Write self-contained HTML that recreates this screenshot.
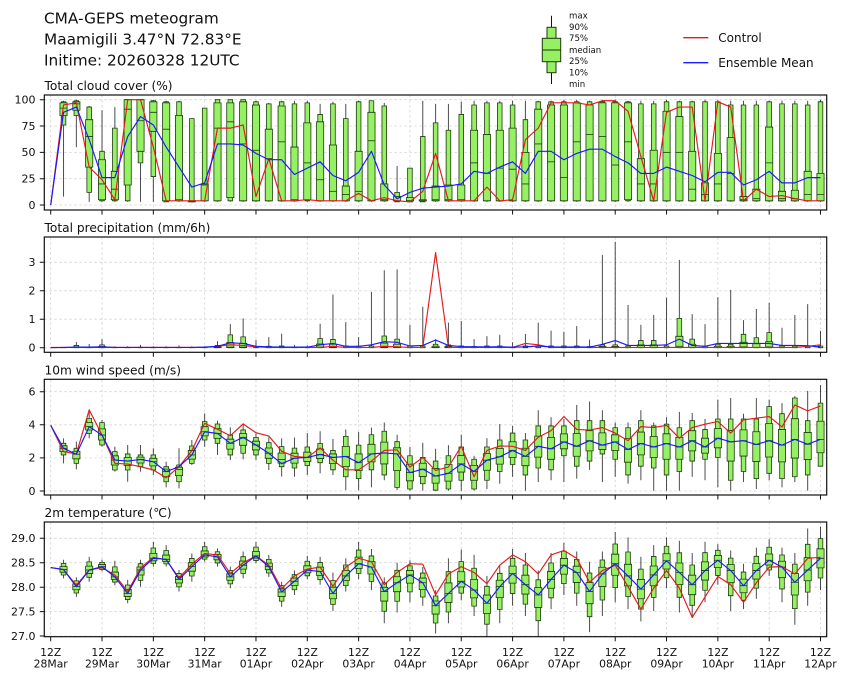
<!DOCTYPE html>
<html><head><meta charset="utf-8"><style>
html,body{margin:0;padding:0;background:#fff;}
svg{display:block;font-family:"DejaVu Sans","Liberation Sans",sans-serif;}
.b{fill:#96f064;stroke:#1c3a0c;stroke-width:0.8px;vector-effect:non-scaling-stroke;}
.w{fill:none;stroke:#000;stroke-opacity:0.7;stroke-width:1px;vector-effect:non-scaling-stroke;}
.m{fill:none;stroke:#1c3a0c;stroke-width:0.8px;vector-effect:non-scaling-stroke;}
.r{fill:none;stroke:#e41a1c;stroke-width:1.15px;stroke-linejoin:round;vector-effect:non-scaling-stroke;}
.u{fill:none;stroke:#1a1aff;stroke-width:1.15px;stroke-linejoin:round;vector-effect:non-scaling-stroke;}
.g{fill:none;stroke:#d4d4d4;stroke-width:0.8px;stroke-dasharray:2.5,2.5;}
.t{fill:none;stroke:#111;stroke-width:1px;}
.f{fill:none;stroke:#111;stroke-width:1.2px;}
</style></head><body>
<svg width="848" height="681" viewBox="0 0 848 681" xmlns="http://www.w3.org/2000/svg">
<rect width="848" height="681" fill="#fff"/>
<defs>
<clipPath id="c0" clipPathUnits="userSpaceOnUse"><rect x="44.3" y="95" width="782.4" height="115"/></clipPath>
<clipPath id="c1" clipPathUnits="userSpaceOnUse"><rect x="44.3" y="237" width="782.4" height="115.3"/></clipPath>
<clipPath id="c2" clipPathUnits="userSpaceOnUse"><rect x="44.3" y="379.3" width="782.4" height="115.7"/></clipPath>
<clipPath id="c3" clipPathUnits="userSpaceOnUse"><rect x="44.3" y="522" width="782.4" height="114.7"/></clipPath>
<path id="vg" d="M50.7,0V115M102.02,0V115M153.34,0V115M204.66,0V115M255.98,0V115M307.3,0V115M358.62,0V115M409.94,0V115M461.26,0V115M512.58,0V115M563.9,0V115M615.22,0V115M666.54,0V115M717.86,0V115M769.18,0V115M820.5,0V115"/>
<path id="xt" d="M50.7,0v4.5M102.02,0v4.5M153.34,0v4.5M204.66,0v4.5M255.98,0v4.5M307.3,0v4.5M358.62,0v4.5M409.94,0v4.5M461.26,0v4.5M512.58,0v4.5M563.9,0v4.5M615.22,0v4.5M666.54,0v4.5M717.86,0v4.5M769.18,0v4.5M820.5,0v4.5"/>
</defs>

<!-- grids -->
<use href="#vg" y="95" class="g"/>
<use href="#vg" y="237.2" class="g"/>
<use href="#vg" y="379.6" class="g"/>
<use href="#vg" y="522" class="g"/>
<path class="g" d="M44.3,99.7H826.7M44.3,126H826.7M44.3,152.4H826.7M44.3,178.7H826.7M44.3,205H826.7"/>
<path class="g" d="M44.3,347.7H826.7M44.3,319.2H826.7M44.3,290.8H826.7M44.3,262.3H826.7"/>
<path class="g" d="M44.3,491H826.7M44.3,457.9H826.7M44.3,424.8H826.7M44.3,391.7H826.7"/>
<path class="g" d="M44.3,636H826.7M44.3,611.6H826.7M44.3,587.2H826.7M44.3,562.7H826.7M44.3,538.3H826.7"/>

<!-- ============ CLOUD ============ -->
<g clip-path="url(#c0)"><g transform="translate(50.7,205) scale(12.83,-1.053)">
<g transform="translate(1)"><path class="w" d="M0,8V99"/><path class="b" d="M-.18,76H.18V98H-.18Z"/><path class="b" d="M-.28,85H.28V97H-.28Z"/><path class="m" d="M-.28,92H.28"/></g>
<g transform="translate(2)"><path class="w" d="M0,55V100"/><path class="b" d="M-.18,85H.18V99H-.18Z"/><path class="b" d="M-.28,90H.28V98H-.28Z"/><path class="m" d="M-.28,96H.28"/></g>
<g transform="translate(3)"><path class="w" d="M0,3V94"/><path class="b" d="M-.18,12H.18V93H-.18Z"/><path class="b" d="M-.28,36H.28V81H-.28Z"/><path class="m" d="M-.28,65H.28"/></g>
<g transform="translate(4)"><path class="w" d="M0,3V90"/><path class="b" d="M-.18,4H.18V51H-.18Z"/><path class="b" d="M-.28,5H.28V43H-.28Z"/><path class="m" d="M-.28,20H.28"/></g>
<g transform="translate(5)"><path class="w" d="M0,3V93"/><path class="b" d="M-.18,4H.18V73H-.18Z"/><path class="b" d="M-.28,5H.28V32H-.28Z"/><path class="m" d="M-.28,15H.28"/></g>
<g transform="translate(6)"><path class="w" d="M0,3V100"/><path class="b" d="M-.18,4H.18V100H-.18Z"/><path class="b" d="M-.28,19H.28V100H-.28Z"/><path class="m" d="M-.28,91H.28"/></g>
<g transform="translate(7)"><path class="w" d="M0,3V100"/><path class="b" d="M-.18,40H.18V100H-.18Z"/><path class="b" d="M-.28,51H.28V100H-.28Z"/><path class="m" d="M-.28,80H.28"/></g>
<g transform="translate(8)"><path class="w" d="M0,3V100"/><path class="b" d="M-.18,27H.18V99H-.18Z"/><path class="b" d="M-.28,70H.28V98H-.28Z"/><path class="m" d="M-.28,88H.28"/></g>
<g transform="translate(9)"><path class="w" d="M0,3V99"/><path class="b" d="M-.18,3H.18V98H-.18Z"/><path class="b" d="M-.28,4H.28V97H-.28Z"/><path class="m" d="M-.28,72H.28"/></g>
<g transform="translate(10)"><path class="w" d="M0,3V99"/><path class="b" d="M-.18,4H.18V98H-.18Z"/><path class="b" d="M-.28,4H.28V85H-.28Z"/><path class="m" d="M-.28,5H.28"/></g>
<g transform="translate(11)"><path class="w" d="M0,3V82"/><path class="b" d="M-.18,3H.18V82H-.18Z"/><path class="b" d="M-.28,3H.28V4H-.28Z"/><path class="m" d="M-.28,4H.28"/></g>
<g transform="translate(12)"><path class="w" d="M0,3V92"/><path class="b" d="M-.18,4H.18V92H-.18Z"/><path class="b" d="M-.28,4H.28V20H-.28Z"/><path class="m" d="M-.28,19H.28"/></g>
<g transform="translate(13)"><path class="w" d="M0,3V100"/><path class="b" d="M-.18,4H.18V100H-.18Z"/><path class="b" d="M-.28,4H.28V97H-.28Z"/><path class="m" d="M-.28,73H.28"/></g>
<g transform="translate(14)"><path class="w" d="M0,3V100"/><path class="b" d="M-.18,4H.18V100H-.18Z"/><path class="b" d="M-.28,7H.28V97H-.28Z"/><path class="m" d="M-.28,79H.28"/></g>
<g transform="translate(15)"><path class="w" d="M0,3V100"/><path class="b" d="M-.18,4H.18V100H-.18Z"/><path class="b" d="M-.28,4H.28V98H-.28Z"/><path class="m" d="M-.28,58H.28"/></g>
<g transform="translate(16)"><path class="w" d="M0,3V99"/><path class="b" d="M-.18,4H.18V98H-.18Z"/><path class="b" d="M-.28,4H.28V95H-.28Z"/><path class="m" d="M-.28,52H.28"/></g>
<g transform="translate(17)"><path class="w" d="M0,3V97"/><path class="b" d="M-.18,4H.18V96H-.18Z"/><path class="b" d="M-.28,4H.28V72H-.28Z"/><path class="m" d="M-.28,44H.28"/></g>
<g transform="translate(18)"><path class="w" d="M0,3V99"/><path class="b" d="M-.18,4H.18V98H-.18Z"/><path class="b" d="M-.28,4H.28V94H-.28Z"/><path class="m" d="M-.28,60H.28"/></g>
<g transform="translate(19)"><path class="w" d="M0,3V99"/><path class="b" d="M-.18,4H.18V96H-.18Z"/><path class="b" d="M-.28,4H.28V55H-.28Z"/><path class="m" d="M-.28,5H.28"/></g>
<g transform="translate(20)"><path class="w" d="M0,3V99"/><path class="b" d="M-.18,4H.18V97H-.18Z"/><path class="b" d="M-.28,5H.28V78H-.28Z"/><path class="m" d="M-.28,40H.28"/></g>
<g transform="translate(21)"><path class="w" d="M0,3V96"/><path class="b" d="M-.18,4H.18V86H-.18Z"/><path class="b" d="M-.28,4H.28V79H-.28Z"/><path class="m" d="M-.28,24H.28"/></g>
<g transform="translate(22)"><path class="w" d="M0,3V98"/><path class="b" d="M-.18,4H.18V96H-.18Z"/><path class="b" d="M-.28,4H.28V57H-.28Z"/><path class="m" d="M-.28,13H.28"/></g>
<g transform="translate(23)"><path class="w" d="M0,3V96"/><path class="b" d="M-.18,4H.18V82H-.18Z"/><path class="b" d="M-.28,4H.28V18H-.28Z"/><path class="m" d="M-.28,10H.28"/></g>
<g transform="translate(24)"><path class="w" d="M0,3V99"/><path class="b" d="M-.18,4H.18V98H-.18Z"/><path class="b" d="M-.28,4H.28V51H-.28Z"/><path class="m" d="M-.28,13H.28"/></g>
<g transform="translate(25)"><path class="w" d="M0,3V99"/><path class="b" d="M-.18,4H.18V99H-.18Z"/><path class="b" d="M-.28,4H.28V88H-.28Z"/><path class="m" d="M-.28,61H.28"/></g>
<g transform="translate(26)"><path class="w" d="M0,3V97"/><path class="b" d="M-.18,4H.18V94H-.18Z"/><path class="b" d="M-.28,4H.28V20H-.28Z"/><path class="m" d="M-.28,5H.28"/></g>
<g transform="translate(27)"><path class="w" d="M0,3V37"/><path class="b" d="M-.18,3H.18V12H-.18Z"/><path class="b" d="M-.28,4H.28V8H-.28Z"/><path class="m" d="M-.28,4H.28"/></g>
<g transform="translate(28)"><path class="w" d="M0,3V35"/><path class="b" d="M-.18,3H.18V35H-.18Z"/><path class="b" d="M-.28,4H.28V7H-.28Z"/><path class="m" d="M-.28,4H.28"/></g>
<g transform="translate(29)"><path class="w" d="M0,3V99"/><path class="b" d="M-.18,3H.18V65H-.18Z"/><path class="b" d="M-.28,4H.28V5H-.28Z"/><path class="m" d="M-.28,4H.28"/></g>
<g transform="translate(30)"><path class="w" d="M0,3V96"/><path class="b" d="M-.18,4H.18V78H-.18Z"/><path class="b" d="M-.28,4H.28V18H-.28Z"/><path class="m" d="M-.28,5H.28"/></g>
<g transform="translate(31)"><path class="w" d="M0,3V96"/><path class="b" d="M-.18,4H.18V71H-.18Z"/><path class="b" d="M-.28,4H.28V19H-.28Z"/><path class="m" d="M-.28,5H.28"/></g>
<g transform="translate(32)"><path class="w" d="M0,3V98"/><path class="b" d="M-.18,4H.18V86H-.18Z"/><path class="b" d="M-.28,4H.28V19H-.28Z"/><path class="m" d="M-.28,5H.28"/></g>
<g transform="translate(33)"><path class="w" d="M0,3V99"/><path class="b" d="M-.18,4H.18V95H-.18Z"/><path class="b" d="M-.28,4H.28V71H-.28Z"/><path class="m" d="M-.28,40H.28"/></g>
<g transform="translate(34)"><path class="w" d="M0,3V99"/><path class="b" d="M-.18,4H.18V97H-.18Z"/><path class="b" d="M-.28,4H.28V67H-.28Z"/><path class="m" d="M-.28,30H.28"/></g>
<g transform="translate(35)"><path class="w" d="M0,3V99"/><path class="b" d="M-.18,4H.18V97H-.18Z"/><path class="b" d="M-.28,4H.28V71H-.28Z"/><path class="m" d="M-.28,35H.28"/></g>
<g transform="translate(36)"><path class="w" d="M0,3V99"/><path class="b" d="M-.18,4H.18V95H-.18Z"/><path class="b" d="M-.28,4H.28V73H-.28Z"/><path class="m" d="M-.28,34H.28"/></g>
<g transform="translate(37)"><path class="w" d="M0,3V99"/><path class="b" d="M-.18,4H.18V81H-.18Z"/><path class="b" d="M-.28,4H.28V50H-.28Z"/><path class="m" d="M-.28,20H.28"/></g>
<g transform="translate(38)"><path class="w" d="M0,3V99"/><path class="b" d="M-.18,4H.18V98H-.18Z"/><path class="b" d="M-.28,4H.28V91H-.28Z"/><path class="m" d="M-.28,58H.28"/></g>
<g transform="translate(39)"><path class="w" d="M0,3V99"/><path class="b" d="M-.18,4H.18V98H-.18Z"/><path class="b" d="M-.28,4H.28V95H-.28Z"/><path class="m" d="M-.28,41H.28"/></g>
<g transform="translate(40)"><path class="w" d="M0,3V100"/><path class="b" d="M-.18,4H.18V98H-.18Z"/><path class="b" d="M-.28,4H.28V95H-.28Z"/><path class="m" d="M-.28,26H.28"/></g>
<g transform="translate(41)"><path class="w" d="M0,3V100"/><path class="b" d="M-.18,4H.18V98H-.18Z"/><path class="b" d="M-.28,4H.28V97H-.28Z"/><path class="m" d="M-.28,60H.28"/></g>
<g transform="translate(42)"><path class="w" d="M0,3V99"/><path class="b" d="M-.18,4H.18V98H-.18Z"/><path class="b" d="M-.28,4H.28V95H-.28Z"/><path class="m" d="M-.28,67H.28"/></g>
<g transform="translate(43)"><path class="w" d="M0,3V100"/><path class="b" d="M-.18,4H.18V98H-.18Z"/><path class="b" d="M-.28,4H.28V97H-.28Z"/><path class="m" d="M-.28,65H.28"/></g>
<g transform="translate(44)"><path class="w" d="M0,3V100"/><path class="b" d="M-.18,4H.18V98H-.18Z"/><path class="b" d="M-.28,4H.28V97H-.28Z"/><path class="m" d="M-.28,38H.28"/></g>
<g transform="translate(45)"><path class="w" d="M0,3V99"/><path class="b" d="M-.18,4H.18V98H-.18Z"/><path class="b" d="M-.28,5H.28V97H-.28Z"/><path class="m" d="M-.28,60H.28"/></g>
<g transform="translate(46)"><path class="w" d="M0,3V99"/><path class="b" d="M-.18,4H.18V96H-.18Z"/><path class="b" d="M-.28,4H.28V44H-.28Z"/><path class="m" d="M-.28,20H.28"/></g>
<g transform="translate(47)"><path class="w" d="M0,3V99"/><path class="b" d="M-.18,4H.18V96H-.18Z"/><path class="b" d="M-.28,4H.28V52H-.28Z"/><path class="m" d="M-.28,20H.28"/></g>
<g transform="translate(48)"><path class="w" d="M0,3V100"/><path class="b" d="M-.18,4H.18V98H-.18Z"/><path class="b" d="M-.28,4H.28V89H-.28Z"/><path class="m" d="M-.28,50H.28"/></g>
<g transform="translate(49)"><path class="w" d="M0,3V99"/><path class="b" d="M-.18,4H.18V98H-.18Z"/><path class="b" d="M-.28,4H.28V84H-.28Z"/><path class="m" d="M-.28,50H.28"/></g>
<g transform="translate(50)"><path class="w" d="M0,3V99"/><path class="b" d="M-.18,4H.18V98H-.18Z"/><path class="b" d="M-.28,4H.28V51H-.28Z"/><path class="m" d="M-.28,15H.28"/></g>
<g transform="translate(51)"><path class="w" d="M0,3V100"/><path class="b" d="M-.18,4H.18V98H-.18Z"/><path class="b" d="M-.28,4H.28V21H-.28Z"/><path class="m" d="M-.28,10H.28"/></g>
<g transform="translate(52)"><path class="w" d="M0,3V100"/><path class="b" d="M-.18,4H.18V98H-.18Z"/><path class="b" d="M-.28,4H.28V49H-.28Z"/><path class="m" d="M-.28,20H.28"/></g>
<g transform="translate(53)"><path class="w" d="M0,3V99"/><path class="b" d="M-.18,4H.18V95H-.18Z"/><path class="b" d="M-.28,4H.28V64H-.28Z"/><path class="m" d="M-.28,30H.28"/></g>
<g transform="translate(54)"><path class="w" d="M0,3V99"/><path class="b" d="M-.18,4H.18V95H-.18Z"/><path class="b" d="M-.28,4H.28V8H-.28Z"/><path class="m" d="M-.28,5H.28"/></g>
<g transform="translate(55)"><path class="w" d="M0,3V99"/><path class="b" d="M-.18,4H.18V95H-.18Z"/><path class="b" d="M-.28,4H.28V15H-.28Z"/><path class="m" d="M-.28,6H.28"/></g>
<g transform="translate(56)"><path class="w" d="M0,3V99"/><path class="b" d="M-.18,4H.18V98H-.18Z"/><path class="b" d="M-.28,4H.28V74H-.28Z"/><path class="m" d="M-.28,40H.28"/></g>
<g transform="translate(57)"><path class="w" d="M0,3V99"/><path class="b" d="M-.18,4H.18V96H-.18Z"/><path class="b" d="M-.28,4H.28V13H-.28Z"/><path class="m" d="M-.28,6H.28"/></g>
<g transform="translate(58)"><path class="w" d="M0,3V99"/><path class="b" d="M-.18,4H.18V96H-.18Z"/><path class="b" d="M-.28,4H.28V14H-.28Z"/><path class="m" d="M-.28,6H.28"/></g>
<g transform="translate(59)"><path class="w" d="M0,3V99"/><path class="b" d="M-.18,4H.18V95H-.18Z"/><path class="b" d="M-.28,4H.28V32H-.28Z"/><path class="m" d="M-.28,10H.28"/></g>
<g transform="translate(60)"><path class="w" d="M0,3V100"/><path class="b" d="M-.18,4H.18V98H-.18Z"/><path class="b" d="M-.28,4H.28V30H-.28Z"/><path class="m" d="M-.28,10H.28"/></g>
<polyline class="r" points="0,0 1,95 2,97 3,36 4,24 5,5 6,100 7,100 8,55 9,4 10,4 11,4 12,4 13,73 14,73 15,76 16,8 17,44 18,4 19,4 20,5 21,4 22,4 23,4 24,11 25,4 26,7 27,4 28,3 29,13 30,49 31,4 32,4 33,4 34,17 35,4 36,5 37,62 38,73 39,97 40,97 41,97 42,95 43,99 44,99 45,89 46,46 47,4 48,88 49,93 50,93 51,4 52,98 53,93 54,4 55,15 56,8 57,9 58,6 59,4 60,4"/>
<polyline class="u" points="0,0 1,88 2,93 3,62 4,26 5,26 6,65 7,84 8,76 9,55 10,36 11,17 12,21 13,58 14,58 15,57 16,49 17,43 18,43 19,29 20,35 21,41 22,28 23,23 24,31 25,51 26,19 27,6 28,12 29,16 30,17 31,18 32,20 33,32 34,30 35,36 36,41 37,30 38,51 39,51 40,43 41,49 42,53 43,53 44,46 45,40 46,30 47,30 48,36 49,32 50,28 51,22 52,31 53,31 54,19 55,24 56,32 57,21 58,21 59,26 60,26"/>
</g></g>

<!-- ============ PRECIP ============ -->
<g clip-path="url(#c1)"><g transform="translate(50.7,347.7) scale(12.83,-28.47)">
<g transform="translate(1)"><path class="w" d="M0,0V.02"/><path class="b" d="M-.18,0H.18V.01H-.18Z"/></g>
<g transform="translate(2)"><path class="w" d="M0,0V.2"/><path class="b" d="M-.18,0H.18V.08H-.18Z"/><path class="b" d="M-.28,.005H.28V.03H-.28Z"/></g>
<g transform="translate(3)"><path class="w" d="M0,0V.13"/><path class="b" d="M-.18,0H.18V.02H-.18Z"/></g>
<g transform="translate(4)"><path class="w" d="M0,0V.3"/><path class="b" d="M-.18,0H.18V.1H-.18Z"/><path class="b" d="M-.28,.005H.28V.04H-.28Z"/></g>
<g transform="translate(5)"><path class="w" d="M0,0V.05"/><path class="b" d="M-.18,0H.18V.01H-.18Z"/></g>
<g transform="translate(6)"><path class="w" d="M0,0V.05"/><path class="b" d="M-.18,0H.18V.01H-.18Z"/></g>
<g transform="translate(7)"><path class="w" d="M0,0V.1"/><path class="b" d="M-.18,0H.18V.015H-.18Z"/></g>
<g transform="translate(8)"><path class="w" d="M0,0V.05"/><path class="b" d="M-.18,0H.18V.01H-.18Z"/></g>
<g transform="translate(9)"><path class="w" d="M0,0V.05"/><path class="b" d="M-.18,0H.18V.01H-.18Z"/></g>
<g transform="translate(10)"><path class="w" d="M0,0V.08"/><path class="b" d="M-.18,0H.18V.01H-.18Z"/></g>
<g transform="translate(11)"><path class="w" d="M0,0V.05"/><path class="b" d="M-.18,0H.18V.01H-.18Z"/></g>
<g transform="translate(12)"><path class="w" d="M0,0V.05"/><path class="b" d="M-.18,0H.18V.01H-.18Z"/></g>
<g transform="translate(13)"><path class="w" d="M0,0V.23"/><path class="b" d="M-.18,0H.18V.08H-.18Z"/><path class="b" d="M-.28,.005H.28V.03H-.28Z"/></g>
<g transform="translate(14)"><path class="w" d="M0,0V.83"/><path class="b" d="M-.18,0H.18V.45H-.18Z"/><path class="b" d="M-.28,.005H.28V.18H-.28Z"/><path class="m" d="M-.28,.02H.28"/></g>
<g transform="translate(15)"><path class="w" d="M0,0V1.03"/><path class="b" d="M-.18,0H.18V.38H-.18Z"/><path class="b" d="M-.28,.005H.28V.15H-.28Z"/><path class="m" d="M-.28,.02H.28"/></g>
<g transform="translate(16)"><path class="w" d="M0,0V.27"/><path class="b" d="M-.18,0H.18V.04H-.18Z"/></g>
<g transform="translate(17)"><path class="w" d="M0,0V.37"/><path class="b" d="M-.18,0H.18V.05H-.18Z"/></g>
<g transform="translate(18)"><path class="w" d="M0,0V.49"/><path class="b" d="M-.18,0H.18V.06H-.18Z"/></g>
<g transform="translate(19)"><path class="w" d="M0,0V.1"/><path class="b" d="M-.18,0H.18V.015H-.18Z"/></g>
<g transform="translate(20)"><path class="w" d="M0,0V.08"/><path class="b" d="M-.18,0H.18V.01H-.18Z"/></g>
<g transform="translate(21)"><path class="w" d="M0,0V.84"/><path class="b" d="M-.18,0H.18V.32H-.18Z"/><path class="b" d="M-.28,.005H.28V.13H-.28Z"/><path class="m" d="M-.28,.02H.28"/></g>
<g transform="translate(22)"><path class="w" d="M0,0V1.87"/><path class="b" d="M-.18,0H.18V.29H-.18Z"/><path class="b" d="M-.28,.005H.28V.12H-.28Z"/><path class="m" d="M-.28,.02H.28"/></g>
<g transform="translate(23)"><path class="w" d="M0,0V.9"/><path class="b" d="M-.18,0H.18V.06H-.18Z"/></g>
<g transform="translate(24)"><path class="w" d="M0,0V.37"/><path class="b" d="M-.18,0H.18V.05H-.18Z"/></g>
<g transform="translate(25)"><path class="w" d="M0,0V1.96"/><path class="b" d="M-.18,0H.18V.06H-.18Z"/></g>
<g transform="translate(26)"><path class="w" d="M0,0V2.72"/><path class="b" d="M-.18,0H.18V.41H-.18Z"/><path class="b" d="M-.28,.005H.28V.16H-.28Z"/><path class="m" d="M-.28,.02H.28"/></g>
<g transform="translate(27)"><path class="w" d="M0,0V2.75"/><path class="b" d="M-.18,0H.18V.3H-.18Z"/><path class="b" d="M-.28,.005H.28V.12H-.28Z"/></g>
<g transform="translate(28)"><path class="w" d="M0,0V.8"/><path class="b" d="M-.18,0H.18V.06H-.18Z"/></g>
<g transform="translate(29)"><path class="w" d="M0,0V1.44"/><path class="b" d="M-.18,0H.18V.06H-.18Z"/></g>
<g transform="translate(30)"><path class="w" d="M0,0V.3"/><path class="b" d="M-.18,0H.18V.12H-.18Z"/><path class="b" d="M-.28,.005H.28V.05H-.28Z"/></g>
<g transform="translate(31)"><path class="w" d="M0,0V.88"/><path class="b" d="M-.18,0H.18V.1H-.18Z"/><path class="b" d="M-.28,.005H.28V.04H-.28Z"/></g>
<g transform="translate(32)"><path class="w" d="M0,0V.94"/><path class="b" d="M-.18,0H.18V.06H-.18Z"/></g>
<g transform="translate(33)"><path class="w" d="M0,0V.3"/><path class="b" d="M-.18,0H.18V.04H-.18Z"/></g>
<g transform="translate(34)"><path class="w" d="M0,0V.4"/><path class="b" d="M-.18,0H.18V.06H-.18Z"/></g>
<g transform="translate(35)"><path class="w" d="M0,0V.45"/><path class="b" d="M-.18,0H.18V.06H-.18Z"/></g>
<g transform="translate(36)"><path class="w" d="M0,0V.19"/><path class="b" d="M-.18,0H.18V.03H-.18Z"/></g>
<g transform="translate(37)"><path class="w" d="M0,0V.48"/><path class="b" d="M-.18,0H.18V.06H-.18Z"/></g>
<g transform="translate(38)"><path class="w" d="M0,0V.88"/><path class="b" d="M-.18,0H.18V.06H-.18Z"/></g>
<g transform="translate(39)"><path class="w" d="M0,0V.6"/><path class="b" d="M-.18,0H.18V.06H-.18Z"/></g>
<g transform="translate(40)"><path class="w" d="M0,0V.56"/><path class="b" d="M-.18,0H.18V.06H-.18Z"/></g>
<g transform="translate(41)"><path class="w" d="M0,0V.76"/><path class="b" d="M-.18,0H.18V.06H-.18Z"/></g>
<g transform="translate(42)"><path class="w" d="M0,0V.29"/><path class="b" d="M-.18,0H.18V.04H-.18Z"/></g>
<g transform="translate(43)"><path class="w" d="M0,0V3.26"/><path class="b" d="M-.18,0H.18V.1H-.18Z"/><path class="b" d="M-.28,.005H.28V.04H-.28Z"/></g>
<g transform="translate(44)"><path class="w" d="M0,0V3.72"/><path class="b" d="M-.18,0H.18V.1H-.18Z"/><path class="b" d="M-.28,.005H.28V.04H-.28Z"/></g>
<g transform="translate(45)"><path class="w" d="M0,0V1.5"/><path class="b" d="M-.18,0H.18V.06H-.18Z"/></g>
<g transform="translate(46)"><path class="w" d="M0,0V.8"/><path class="b" d="M-.18,0H.18V.25H-.18Z"/><path class="b" d="M-.28,.005H.28V.1H-.28Z"/></g>
<g transform="translate(47)"><path class="w" d="M0,0V1.15"/><path class="b" d="M-.18,0H.18V.25H-.18Z"/><path class="b" d="M-.28,.005H.28V.1H-.28Z"/></g>
<g transform="translate(48)"><path class="w" d="M0,0V1.76"/><path class="b" d="M-.18,0H.18V.06H-.18Z"/></g>
<g transform="translate(49)"><path class="w" d="M0,0V3.08"/><path class="b" d="M-.18,0H.18V1.03H-.18Z"/><path class="b" d="M-.28,.005H.28V.4H-.28Z"/><path class="m" d="M-.28,.05H.28"/></g>
<g transform="translate(50)"><path class="w" d="M0,0V1.18"/><path class="b" d="M-.18,0H.18V.3H-.18Z"/><path class="b" d="M-.28,.005H.28V.12H-.28Z"/></g>
<g transform="translate(51)"><path class="w" d="M0,0V.83"/><path class="b" d="M-.18,0H.18V.06H-.18Z"/></g>
<g transform="translate(52)"><path class="w" d="M0,0V1.77"/><path class="b" d="M-.18,0H.18V.12H-.18Z"/><path class="b" d="M-.28,.005H.28V.05H-.28Z"/></g>
<g transform="translate(53)"><path class="w" d="M0,0V2.03"/><path class="b" d="M-.18,0H.18V.12H-.18Z"/><path class="b" d="M-.28,.005H.28V.05H-.28Z"/></g>
<g transform="translate(54)"><path class="w" d="M0,0V.97"/><path class="b" d="M-.18,0H.18V.47H-.18Z"/><path class="b" d="M-.28,.005H.28V.19H-.28Z"/><path class="m" d="M-.28,.03H.28"/></g>
<g transform="translate(55)"><path class="w" d="M0,0V1.36"/><path class="b" d="M-.18,0H.18V.35H-.18Z"/><path class="b" d="M-.28,.005H.28V.14H-.28Z"/></g>
<g transform="translate(56)"><path class="w" d="M0,0V1.58"/><path class="b" d="M-.18,0H.18V.53H-.18Z"/><path class="b" d="M-.28,.005H.28V.21H-.28Z"/><path class="m" d="M-.28,.03H.28"/></g>
<g transform="translate(57)"><path class="w" d="M0,0V.7"/><path class="b" d="M-.18,0H.18V.06H-.18Z"/></g>
<g transform="translate(58)"><path class="w" d="M0,0V1.15"/><path class="b" d="M-.18,0H.18V.06H-.18Z"/></g>
<g transform="translate(59)"><path class="w" d="M0,0V1.53"/><path class="b" d="M-.18,0H.18V.06H-.18Z"/></g>
<g transform="translate(60)"><path class="w" d="M0,0V.59"/><path class="b" d="M-.18,0H.18V.06H-.18Z"/></g>
<polyline class="r" points="0,.01 1,.01 2,.01 3,.01 4,.01 5,.01 6,.01 7,.01 8,.01 9,.01 10,.01 11,.01 12,.01 13,.05 14,.1 15,.08 16,.03 17,.01 18,.01 19,.01 20,.01 21,.01 22,.05 23,.01 24,.01 25,.01 26,.05 27,.03 28,.01 29,.01 30,3.34 31,.01 32,.01 33,.01 34,.01 35,.01 36,.01 37,.15 38,.1 39,.01 40,.01 41,.01 42,.01 43,.01 44,.01 45,.01 46,.01 47,.01 48,.01 49,.01 50,.01 51,.01 52,.01 53,.01 54,.01 55,.01 56,.01 57,.01 58,.01 59,.05 60,.1"/>
<polyline class="u" points="0,0 1,.01 2,.02 3,.02 4,.03 5,.01 6,.01 7,.01 8,.01 9,.01 10,.01 11,.01 12,.02 13,.05 14,.17 15,.15 16,.05 17,.03 18,.02 19,.02 20,.02 21,.1 22,.15 23,.05 24,.05 25,.1 26,.21 27,.19 28,.06 29,.08 30,.27 31,.08 32,.04 33,.03 34,.03 35,.03 36,.02 37,.03 38,.06 39,.03 40,.02 41,.03 42,.02 43,.12 44,.25 45,.08 46,.08 47,.08 48,.1 49,.3 50,.08 51,.05 52,.15 53,.15 54,.15 55,.15 56,.15 57,.08 58,.08 59,.07 60,.02"/>
</g></g>

<!-- ============ WIND ============ -->
<g clip-path="url(#c2)"><g transform="translate(50.7,491) scale(12.83,-16.55)">
<g transform="translate(1)"><path class="w" d="M0,1.67V3.18"/><path class="b" d="M-.18,2.18H.18V2.88H-.18Z"/><g transform="translate(0,2.58) scale(1,.5) translate(0,-2.58)"><path class="b" d="M-.28,2.18H.28V2.88H-.28Z"/></g><path class="m" d="M-.28,2.58H.28"/></g>
<g transform="translate(2)"><path class="w" d="M0,1.31V2.98"/><path class="b" d="M-.18,1.67H.18V2.58H-.18Z"/><g transform="translate(0,2.22) scale(1,.5) translate(0,-2.22)"><path class="b" d="M-.28,1.67H.28V2.58H-.28Z"/></g><path class="m" d="M-.28,2.22H.28"/></g>
<g transform="translate(3)"><path class="w" d="M0,3.18V4.93"/><path class="b" d="M-.18,3.48H.18V4.39H-.18Z"/><g transform="translate(0,3.89) scale(1,.5) translate(0,-3.89)"><path class="b" d="M-.28,3.48H.28V4.39H-.28Z"/></g><path class="m" d="M-.28,3.89H.28"/></g>
<g transform="translate(4)"><path class="w" d="M0,2.68V4.29"/><path class="b" d="M-.18,2.78H.18V4.13H-.18Z"/><g transform="translate(0,3.38) scale(1,.5) translate(0,-3.38)"><path class="b" d="M-.28,2.78H.28V4.13H-.28Z"/></g><path class="m" d="M-.28,3.38H.28"/></g>
<g transform="translate(5)"><path class="w" d="M0,1.17V2.68"/><path class="b" d="M-.18,1.27H.18V2.38H-.18Z"/><g transform="translate(0,1.87) scale(1,.5) translate(0,-1.87)"><path class="b" d="M-.28,1.27H.28V2.38H-.28Z"/></g><path class="m" d="M-.28,1.87H.28"/></g>
<g transform="translate(6)"><path class="w" d="M0,.56V2.78"/><path class="b" d="M-.18,1.27H.18V2.24H-.18Z"/><g transform="translate(0,1.81) scale(1,.5) translate(0,-1.81)"><path class="b" d="M-.28,1.27H.28V2.24H-.28Z"/></g><path class="m" d="M-.28,1.81H.28"/></g>
<g transform="translate(7)"><path class="w" d="M0,1.17V2.78"/><path class="b" d="M-.18,1.47H.18V2.18H-.18Z"/><g transform="translate(0,1.91) scale(1,.5) translate(0,-1.91)"><path class="b" d="M-.28,1.47H.28V2.18H-.28Z"/></g><path class="m" d="M-.28,1.91H.28"/></g>
<g transform="translate(8)"><path class="w" d="M0,.97V2.58"/><path class="b" d="M-.18,1.27H.18V2.18H-.18Z"/><g transform="translate(0,1.77) scale(1,.5) translate(0,-1.77)"><path class="b" d="M-.28,1.27H.28V2.18H-.28Z"/></g><path class="m" d="M-.28,1.77H.28"/></g>
<g transform="translate(9)"><path class="w" d="M0,.22V1.77"/><path class="b" d="M-.18,.56H.18V1.47H-.18Z"/><g transform="translate(0,1.17) scale(1,.5) translate(0,-1.17)"><path class="b" d="M-.28,.56H.28V1.47H-.28Z"/></g><path class="m" d="M-.28,1.17H.28"/></g>
<g transform="translate(10)"><path class="w" d="M0,.16V2.58"/><path class="b" d="M-.18,.56H.18V1.57H-.18Z"/><g transform="translate(0,1.3) scale(1,.5) translate(0,-1.3)"><path class="b" d="M-.28,.56H.28V1.57H-.28Z"/></g><path class="m" d="M-.28,1.3H.28"/></g>
<g transform="translate(11)"><path class="w" d="M0,1.57V3.08"/><path class="b" d="M-.18,1.67H.18V2.72H-.18Z"/><g transform="translate(0,2.18) scale(1,.5) translate(0,-2.18)"><path class="b" d="M-.28,1.67H.28V2.72H-.28Z"/></g><path class="m" d="M-.28,2.18H.28"/></g>
<g transform="translate(12)"><path class="w" d="M0,2.68V4.69"/><path class="b" d="M-.18,3.08H.18V4.19H-.18Z"/><g transform="translate(0,3.58) scale(1,.5) translate(0,-3.58)"><path class="b" d="M-.28,3.08H.28V4.19H-.28Z"/></g><path class="m" d="M-.28,3.58H.28"/></g>
<g transform="translate(13)"><path class="w" d="M0,2.18V4.25"/><path class="b" d="M-.18,2.88H.18V4.05H-.18Z"/><g transform="translate(0,3.48) scale(1,.5) translate(0,-3.48)"><path class="b" d="M-.28,2.88H.28V4.05H-.28Z"/></g><path class="m" d="M-.28,3.48H.28"/></g>
<g transform="translate(14)"><path class="w" d="M0,1.87V3.85"/><path class="b" d="M-.18,2.18H.18V3.38H-.18Z"/><g transform="translate(0,2.88) scale(1,.5) translate(0,-2.88)"><path class="b" d="M-.28,2.18H.28V3.38H-.28Z"/></g><path class="m" d="M-.28,2.88H.28"/></g>
<g transform="translate(15)"><path class="w" d="M0,1.91V4.09"/><path class="b" d="M-.18,2.28H.18V3.69H-.18Z"/><g transform="translate(0,3.24) scale(1,.5) translate(0,-3.24)"><path class="b" d="M-.28,2.28H.28V3.69H-.28Z"/></g><path class="m" d="M-.28,3.24H.28"/></g>
<g transform="translate(16)"><path class="w" d="M0,1.87V3.48"/><path class="b" d="M-.18,2.18H.18V3.24H-.18Z"/><g transform="translate(0,2.78) scale(1,.5) translate(0,-2.78)"><path class="b" d="M-.28,2.18H.28V3.24H-.28Z"/></g><path class="m" d="M-.28,2.78H.28"/></g>
<g transform="translate(17)"><path class="w" d="M0,1.27V3.24"/><path class="b" d="M-.18,1.67H.18V2.92H-.18Z"/><g transform="translate(0,2.28) scale(1,.5) translate(0,-2.28)"><path class="b" d="M-.28,1.67H.28V2.92H-.28Z"/></g><path class="m" d="M-.28,2.28H.28"/></g>
<g transform="translate(18)"><path class="w" d="M0,.87V3.18"/><path class="b" d="M-.18,1.47H.18V2.68H-.18Z"/><g transform="translate(0,1.9) scale(1,.5) translate(0,-1.9)"><path class="b" d="M-.28,1.47H.28V2.68H-.28Z"/></g><path class="m" d="M-.28,1.9H.28"/></g>
<g transform="translate(19)"><path class="w" d="M0,.86V3.23"/><path class="b" d="M-.18,1.39H.18V2.59H-.18Z"/><g transform="translate(0,1.98) scale(1,.5) translate(0,-1.98)"><path class="b" d="M-.28,1.39H.28V2.59H-.28Z"/></g><path class="m" d="M-.28,1.98H.28"/></g>
<g transform="translate(20)"><path class="w" d="M0,.97V3.5"/><path class="b" d="M-.18,1.54H.18V2.66H-.18Z"/><g transform="translate(0,2.03) scale(1,.5) translate(0,-2.03)"><path class="b" d="M-.28,1.54H.28V2.66H-.28Z"/></g><path class="m" d="M-.28,2.03H.28"/></g>
<g transform="translate(21)"><path class="w" d="M0,1.07V3.61"/><path class="b" d="M-.18,1.71H.18V2.87H-.18Z"/><g transform="translate(0,2.21) scale(1,.5) translate(0,-2.21)"><path class="b" d="M-.28,1.71H.28V2.87H-.28Z"/></g><path class="m" d="M-.28,2.21H.28"/></g>
<g transform="translate(22)"><path class="w" d="M0,.97V3.15"/><path class="b" d="M-.18,1.28H.18V2.45H-.18Z"/><g transform="translate(0,2.03) scale(1,.5) translate(0,-2.03)"><path class="b" d="M-.28,1.28H.28V2.45H-.28Z"/></g><path class="m" d="M-.28,2.03H.28"/></g>
<g transform="translate(23)"><path class="w" d="M0,.05V3.72"/><path class="b" d="M-.18,.86H.18V3.3H-.18Z"/><g transform="translate(0,2.09) scale(1,.5) translate(0,-2.09)"><path class="b" d="M-.28,.86H.28V3.3H-.28Z"/></g><path class="m" d="M-.28,2.09H.28"/></g>
<g transform="translate(24)"><path class="w" d="M0,.05V3.57"/><path class="b" d="M-.18,.75H.18V2.77H-.18Z"/><g transform="translate(0,1.71) scale(1,.5) translate(0,-1.71)"><path class="b" d="M-.28,.75H.28V2.77H-.28Z"/></g><path class="m" d="M-.28,1.71H.28"/></g>
<g transform="translate(25)"><path class="w" d="M0,.22V3.83"/><path class="b" d="M-.18,1.28H.18V3.4H-.18Z"/><g transform="translate(0,2.24) scale(1,.5) translate(0,-2.24)"><path class="b" d="M-.28,1.28H.28V3.4H-.28Z"/></g><path class="m" d="M-.28,2.24H.28"/></g>
<g transform="translate(26)"><path class="w" d="M0,.65V4.14"/><path class="b" d="M-.18,.97H.18V3.61H-.18Z"/><g transform="translate(0,2.3) scale(1,.5) translate(0,-2.3)"><path class="b" d="M-.28,.97H.28V3.61H-.28Z"/></g><path class="m" d="M-.28,2.3H.28"/></g>
<g transform="translate(27)"><path class="w" d="M0,.06V3.4"/><path class="b" d="M-.18,.22H.18V2.98H-.18Z"/><g transform="translate(0,2.24) scale(1,.5) translate(0,-2.24)"><path class="b" d="M-.28,.22H.28V2.98H-.28Z"/></g><path class="m" d="M-.28,2.24H.28"/></g>
<g transform="translate(28)"><path class="w" d="M0,.02V2.66"/><path class="b" d="M-.18,.12H.18V2.13H-.18Z"/><g transform="translate(0,1.11) scale(1,.5) translate(0,-1.11)"><path class="b" d="M-.28,.12H.28V2.13H-.28Z"/></g><path class="m" d="M-.28,1.11H.28"/></g>
<g transform="translate(29)"><path class="w" d="M0,.02V2.91"/><path class="b" d="M-.18,.44H.18V2.03H-.18Z"/><g transform="translate(0,1.32) scale(1,.5) translate(0,-1.32)"><path class="b" d="M-.28,.44H.28V2.03H-.28Z"/></g><path class="m" d="M-.28,1.32H.28"/></g>
<g transform="translate(30)"><path class="w" d="M0,.01V2.55"/><path class="b" d="M-.18,.05H.18V1.81H-.18Z"/><g transform="translate(0,.9) scale(1,.5) translate(0,-.9)"><path class="b" d="M-.28,.05H.28V1.81H-.28Z"/></g><path class="m" d="M-.28,.9H.28"/></g>
<g transform="translate(31)"><path class="w" d="M0,.02V2.77"/><path class="b" d="M-.18,.12H.18V2.13H-.18Z"/><g transform="translate(0,1.07) scale(1,.5) translate(0,-1.07)"><path class="b" d="M-.28,.12H.28V2.13H-.28Z"/></g><path class="m" d="M-.28,1.07H.28"/></g>
<g transform="translate(32)"><path class="w" d="M0,.01V3.4"/><path class="b" d="M-.18,.65H.18V2.66H-.18Z"/><g transform="translate(0,1.64) scale(1,.5) translate(0,-1.64)"><path class="b" d="M-.28,.65H.28V2.66H-.28Z"/></g><path class="m" d="M-.28,1.64H.28"/></g>
<g transform="translate(33)"><path class="w" d="M0,.02V2.13"/><path class="b" d="M-.18,.12H.18V1.92H-.18Z"/><g transform="translate(0,1.18) scale(1,.5) translate(0,-1.18)"><path class="b" d="M-.28,.12H.28V1.92H-.28Z"/></g><path class="m" d="M-.28,1.18H.28"/></g>
<g transform="translate(34)"><path class="w" d="M0,.12V3.19"/><path class="b" d="M-.18,.65H.18V2.66H-.18Z"/><g transform="translate(0,1.86) scale(1,.5) translate(0,-1.86)"><path class="b" d="M-.28,.65H.28V2.66H-.28Z"/></g><path class="m" d="M-.28,1.86H.28"/></g>
<g transform="translate(35)"><path class="w" d="M0,.44V4.04"/><path class="b" d="M-.18,1.18H.18V3.08H-.18Z"/><g transform="translate(0,2.07) scale(1,.5) translate(0,-2.07)"><path class="b" d="M-.28,1.18H.28V3.08H-.28Z"/></g><path class="m" d="M-.28,2.07H.28"/></g>
<g transform="translate(36)"><path class="w" d="M0,.86V3.93"/><path class="b" d="M-.18,1.6H.18V3.5H-.18Z"/><g transform="translate(0,2.45) scale(1,.5) translate(0,-2.45)"><path class="b" d="M-.28,1.6H.28V3.5H-.28Z"/></g><path class="m" d="M-.28,2.45H.28"/></g>
<g transform="translate(37)"><path class="w" d="M0,.02V3.5"/><path class="b" d="M-.18,.97H.18V3.08H-.18Z"/><g transform="translate(0,2.09) scale(1,.5) translate(0,-2.09)"><path class="b" d="M-.28,.97H.28V3.08H-.28Z"/></g><path class="m" d="M-.28,2.09H.28"/></g>
<g transform="translate(38)"><path class="w" d="M0,.54V4.88"/><path class="b" d="M-.18,1.39H.18V3.93H-.18Z"/><g transform="translate(0,2.7) scale(1,.5) translate(0,-2.7)"><path class="b" d="M-.28,1.39H.28V3.93H-.28Z"/></g><path class="m" d="M-.28,2.7H.28"/></g>
<g transform="translate(39)"><path class="w" d="M0,.65V4.46"/><path class="b" d="M-.18,1.28H.18V3.93H-.18Z"/><g transform="translate(0,2.55) scale(1,.5) translate(0,-2.55)"><path class="b" d="M-.28,1.28H.28V3.93H-.28Z"/></g><path class="m" d="M-.28,2.55H.28"/></g>
<g transform="translate(40)"><path class="w" d="M0,.54V4.35"/><path class="b" d="M-.18,2.13H.18V3.93H-.18Z"/><g transform="translate(0,2.97) scale(1,.5) translate(0,-2.97)"><path class="b" d="M-.28,2.13H.28V3.93H-.28Z"/></g><path class="m" d="M-.28,2.97H.28"/></g>
<g transform="translate(41)"><path class="w" d="M0,.75V5.2"/><path class="b" d="M-.18,1.5H.18V4.25H-.18Z"/><g transform="translate(0,2.7) scale(1,.5) translate(0,-2.7)"><path class="b" d="M-.28,1.5H.28V4.25H-.28Z"/></g><path class="m" d="M-.28,2.7H.28"/></g>
<g transform="translate(42)"><path class="w" d="M0,1.28V5.41"/><path class="b" d="M-.18,1.81H.18V4.25H-.18Z"/><g transform="translate(0,3.04) scale(1,.5) translate(0,-3.04)"><path class="b" d="M-.28,1.81H.28V4.25H-.28Z"/></g><path class="m" d="M-.28,3.04H.28"/></g>
<g transform="translate(43)"><path class="w" d="M0,.54V4.88"/><path class="b" d="M-.18,2.24H.18V4.25H-.18Z"/><g transform="translate(0,2.77) scale(1,.5) translate(0,-2.77)"><path class="b" d="M-.28,2.24H.28V4.25H-.28Z"/></g><path class="m" d="M-.28,2.77H.28"/></g>
<g transform="translate(44)"><path class="w" d="M0,.86V4.14"/><path class="b" d="M-.18,1.92H.18V3.82H-.18Z"/><g transform="translate(0,2.97) scale(1,.5) translate(0,-2.97)"><path class="b" d="M-.28,1.92H.28V3.82H-.28Z"/></g><path class="m" d="M-.28,2.97H.28"/></g>
<g transform="translate(45)"><path class="w" d="M0,.44V4.14"/><path class="b" d="M-.18,.97H.18V3.82H-.18Z"/><g transform="translate(0,2.51) scale(1,.5) translate(0,-2.51)"><path class="b" d="M-.28,.97H.28V3.82H-.28Z"/></g><path class="m" d="M-.28,2.51H.28"/></g>
<g transform="translate(46)"><path class="w" d="M0,.65V4.88"/><path class="b" d="M-.18,1.5H.18V4.25H-.18Z"/><g transform="translate(0,2.87) scale(1,.5) translate(0,-2.87)"><path class="b" d="M-.28,1.5H.28V4.25H-.28Z"/></g><path class="m" d="M-.28,2.87H.28"/></g>
<g transform="translate(47)"><path class="w" d="M0,.01V4.14"/><path class="b" d="M-.18,1.39H.18V3.93H-.18Z"/><g transform="translate(0,2.66) scale(1,.5) translate(0,-2.66)"><path class="b" d="M-.28,1.39H.28V3.93H-.28Z"/></g><path class="m" d="M-.28,2.66H.28"/></g>
<g transform="translate(48)"><path class="w" d="M0,.02V4.46"/><path class="b" d="M-.18,.97H.18V4.04H-.18Z"/><g transform="translate(0,2.87) scale(1,.5) translate(0,-2.87)"><path class="b" d="M-.28,.97H.28V4.04H-.28Z"/></g><path class="m" d="M-.28,2.87H.28"/></g>
<g transform="translate(49)"><path class="w" d="M0,.02V4.78"/><path class="b" d="M-.18,1.18H.18V3.82H-.18Z"/><g transform="translate(0,2.66) scale(1,.5) translate(0,-2.66)"><path class="b" d="M-.28,1.18H.28V3.82H-.28Z"/></g><path class="m" d="M-.28,2.66H.28"/></g>
<g transform="translate(50)"><path class="w" d="M0,.86V4.71"/><path class="b" d="M-.18,1.81H.18V4.25H-.18Z"/><g transform="translate(0,3.04) scale(1,.5) translate(0,-3.04)"><path class="b" d="M-.28,1.81H.28V4.25H-.28Z"/></g><path class="m" d="M-.28,3.04H.28"/></g>
<g transform="translate(51)"><path class="w" d="M0,.65V4.35"/><path class="b" d="M-.18,1.92H.18V3.72H-.18Z"/><g transform="translate(0,2.66) scale(1,.5) translate(0,-2.66)"><path class="b" d="M-.28,1.92H.28V3.72H-.28Z"/></g><path class="m" d="M-.28,2.66H.28"/></g>
<g transform="translate(52)"><path class="w" d="M0,.22V5.52"/><path class="b" d="M-.18,2.03H.18V4.35H-.18Z"/><g transform="translate(0,3.19) scale(1,.5) translate(0,-3.19)"><path class="b" d="M-.28,2.03H.28V4.35H-.28Z"/></g><path class="m" d="M-.28,3.19H.28"/></g>
<g transform="translate(53)"><path class="w" d="M0,.01V5.62"/><path class="b" d="M-.18,.65H.18V4.35H-.18Z"/><g transform="translate(0,2.97) scale(1,.5) translate(0,-2.97)"><path class="b" d="M-.28,.65H.28V4.35H-.28Z"/></g><path class="m" d="M-.28,2.97H.28"/></g>
<g transform="translate(54)"><path class="w" d="M0,.54V4.67"/><path class="b" d="M-.18,1.18H.18V4.35H-.18Z"/><g transform="translate(0,3.04) scale(1,.5) translate(0,-3.04)"><path class="b" d="M-.28,1.18H.28V4.35H-.28Z"/></g><path class="m" d="M-.28,3.04H.28"/></g>
<g transform="translate(55)"><path class="w" d="M0,.12V5.62"/><path class="b" d="M-.18,.75H.18V4.35H-.18Z"/><g transform="translate(0,2.81) scale(1,.5) translate(0,-2.81)"><path class="b" d="M-.28,.75H.28V4.35H-.28Z"/></g><path class="m" d="M-.28,2.81H.28"/></g>
<g transform="translate(56)"><path class="w" d="M0,.65V5.52"/><path class="b" d="M-.18,1.07H.18V5.1H-.18Z"/><g transform="translate(0,3.04) scale(1,.5) translate(0,-3.04)"><path class="b" d="M-.28,1.07H.28V5.1H-.28Z"/></g><path class="m" d="M-.28,3.04H.28"/></g>
<g transform="translate(57)"><path class="w" d="M0,.22V5.31"/><path class="b" d="M-.18,.75H.18V4.67H-.18Z"/><g transform="translate(0,2.77) scale(1,.5) translate(0,-2.77)"><path class="b" d="M-.28,.75H.28V4.67H-.28Z"/></g><path class="m" d="M-.28,2.77H.28"/></g>
<g transform="translate(58)"><path class="w" d="M0,.54V5.73"/><path class="b" d="M-.18,.86H.18V5.62H-.18Z"/><g transform="translate(0,3.12) scale(1,.5) translate(0,-3.12)"><path class="b" d="M-.28,.86H.28V5.62H-.28Z"/></g><path class="m" d="M-.28,3.12H.28"/></g>
<g transform="translate(59)"><path class="w" d="M0,.02V6.05"/><path class="b" d="M-.18,.97H.18V4.25H-.18Z"/><g transform="translate(0,2.83) scale(1,.5) translate(0,-2.83)"><path class="b" d="M-.28,.97H.28V4.25H-.28Z"/></g><path class="m" d="M-.28,2.83H.28"/></g>
<g transform="translate(60)"><path class="w" d="M0,1.5V6.4"/><path class="b" d="M-.18,1.5H.18V5.31H-.18Z"/><g transform="translate(0,3.12) scale(1,.5) translate(0,-3.12)"><path class="b" d="M-.28,1.5H.28V5.31H-.28Z"/></g><path class="m" d="M-.28,3.12H.28"/></g>
<polyline class="r" points="0,3.97 1,2.38 2,2.24 3,4.9 4,3.38 5,1.67 6,1.63 7,1.47 8,1.27 9,.8 10,1.47 11,2.44 12,4.09 13,3.73 14,3.34 15,4.05 16,3.52 17,3.32 18,2.4 19,2.09 20,2.03 21,2.6 22,1.86 23,1.28 24,1.28 25,1.81 26,2.45 27,2.49 28,1.45 29,2.03 30,1.24 31,1.45 32,2.7 33,.86 34,2.45 35,2.72 36,2.7 37,2.45 38,3.25 39,3.65 40,4.5 41,3.72 42,3.68 43,3.83 44,3.5 45,3.04 46,3.89 47,3.83 48,3.97 49,3.19 50,3.83 51,4.04 52,4.2 53,3.5 54,4.3 55,4.4 56,4.5 57,3.87 58,5.2 59,4.84 60,5.14"/>
<polyline class="u" points="0,3.97 1,2.58 2,2.22 3,3.89 4,3.38 5,1.87 6,1.81 7,1.91 8,1.77 9,1.17 10,1.47 11,2.18 12,3.58 13,3.48 14,2.88 15,3.24 16,2.78 17,2.28 18,1.65 19,1.98 20,2.03 21,2.21 22,2.03 23,2.09 24,1.71 25,2.24 26,2.3 27,2.24 28,1.11 29,1.32 30,.9 31,1.07 32,1.64 33,1.18 34,1.86 35,2.07 36,2.45 37,2.09 38,2.7 39,2.55 40,2.97 41,2.7 42,3.04 43,2.77 44,2.97 45,2.51 46,2.87 47,2.66 48,2.87 49,2.66 50,3.04 51,2.66 52,3.19 53,2.97 54,3.04 55,2.81 56,3.04 57,2.77 58,3.12 59,2.83 60,3.12"/>
</g></g>

<!-- ============ TEMPERATURE ============ -->
<g clip-path="url(#c3)"><g transform="translate(50.7,1954.95) scale(12.83,-48.85)">
<g transform="translate(1)"><path class="w" d="M0,28.18V28.56"/><g transform="translate(0,28.36) scale(1,.62) translate(0,-28.36)"><path class="b" d="M-.18,28.18H.18V28.56H-.18Z"/></g><g transform="translate(0,28.36) scale(1,.3) translate(0,-28.36)"><path class="b" d="M-.28,28.18H.28V28.56H-.28Z"/></g><path class="m" d="M-.28,28.36H.28"/></g>
<g transform="translate(2)"><path class="w" d="M0,27.8V28.2"/><g transform="translate(0,28.01) scale(1,.62) translate(0,-28.01)"><path class="b" d="M-.18,27.8H.18V28.2H-.18Z"/></g><g transform="translate(0,28.01) scale(1,.3) translate(0,-28.01)"><path class="b" d="M-.28,27.8H.28V28.2H-.28Z"/></g><path class="m" d="M-.28,28.01H.28"/></g>
<g transform="translate(3)"><path class="w" d="M0,28.11V28.62"/><g transform="translate(0,28.35) scale(1,.62) translate(0,-28.35)"><path class="b" d="M-.18,28.11H.18V28.62H-.18Z"/></g><g transform="translate(0,28.35) scale(1,.3) translate(0,-28.35)"><path class="b" d="M-.28,28.11H.28V28.62H-.28Z"/></g><path class="m" d="M-.28,28.35H.28"/></g>
<g transform="translate(4)"><path class="w" d="M0,28.32V28.56"/><g transform="translate(0,28.42) scale(1,.62) translate(0,-28.42)"><path class="b" d="M-.18,28.32H.18V28.56H-.18Z"/></g><g transform="translate(0,28.42) scale(1,.3) translate(0,-28.42)"><path class="b" d="M-.28,28.32H.28V28.56H-.28Z"/></g><path class="m" d="M-.28,28.42H.28"/></g>
<g transform="translate(5)"><path class="w" d="M0,28.04V28.54"/><g transform="translate(0,28.21) scale(1,.62) translate(0,-28.21)"><path class="b" d="M-.18,28.04H.18V28.54H-.18Z"/></g><g transform="translate(0,28.21) scale(1,.3) translate(0,-28.21)"><path class="b" d="M-.28,28.04H.28V28.54H-.28Z"/></g><path class="m" d="M-.28,28.21H.28"/></g>
<g transform="translate(6)"><path class="w" d="M0,27.67V28.15"/><g transform="translate(0,27.87) scale(1,.62) translate(0,-27.87)"><path class="b" d="M-.18,27.67H.18V28.15H-.18Z"/></g><g transform="translate(0,27.87) scale(1,.3) translate(0,-27.87)"><path class="b" d="M-.28,27.67H.28V28.15H-.28Z"/></g><path class="m" d="M-.28,27.87H.28"/></g>
<g transform="translate(7)"><path class="w" d="M0,28.01V28.56"/><g transform="translate(0,28.35) scale(1,.62) translate(0,-28.35)"><path class="b" d="M-.18,28.01H.18V28.56H-.18Z"/></g><g transform="translate(0,28.35) scale(1,.3) translate(0,-28.35)"><path class="b" d="M-.28,28.01H.28V28.56H-.28Z"/></g><path class="m" d="M-.28,28.35H.28"/></g>
<g transform="translate(8)"><path class="w" d="M0,28.42V28.93"/><g transform="translate(0,28.59) scale(1,.62) translate(0,-28.59)"><path class="b" d="M-.18,28.42H.18V28.93H-.18Z"/></g><g transform="translate(0,28.59) scale(1,.3) translate(0,-28.59)"><path class="b" d="M-.28,28.42H.28V28.93H-.28Z"/></g><path class="m" d="M-.28,28.59H.28"/></g>
<g transform="translate(9)"><path class="w" d="M0,28.42V28.86"/><g transform="translate(0,28.57) scale(1,.62) translate(0,-28.57)"><path class="b" d="M-.18,28.42H.18V28.86H-.18Z"/></g><g transform="translate(0,28.57) scale(1,.3) translate(0,-28.57)"><path class="b" d="M-.28,28.42H.28V28.86H-.28Z"/></g><path class="m" d="M-.28,28.57H.28"/></g>
<g transform="translate(10)"><path class="w" d="M0,27.91V28.35"/><g transform="translate(0,28.16) scale(1,.62) translate(0,-28.16)"><path class="b" d="M-.18,27.91H.18V28.35H-.18Z"/></g><g transform="translate(0,28.16) scale(1,.3) translate(0,-28.16)"><path class="b" d="M-.28,27.91H.28V28.35H-.28Z"/></g><path class="m" d="M-.28,28.16H.28"/></g>
<g transform="translate(11)"><path class="w" d="M0,28.11V28.69"/><g transform="translate(0,28.42) scale(1,.62) translate(0,-28.42)"><path class="b" d="M-.18,28.11H.18V28.69H-.18Z"/></g><g transform="translate(0,28.42) scale(1,.3) translate(0,-28.42)"><path class="b" d="M-.28,28.11H.28V28.69H-.28Z"/></g><path class="m" d="M-.28,28.42H.28"/></g>
<g transform="translate(12)"><path class="w" d="M0,28.52V28.93"/><g transform="translate(0,28.66) scale(1,.62) translate(0,-28.66)"><path class="b" d="M-.18,28.52H.18V28.93H-.18Z"/></g><g transform="translate(0,28.66) scale(1,.3) translate(0,-28.66)"><path class="b" d="M-.28,28.52H.28V28.93H-.28Z"/></g><path class="m" d="M-.28,28.66H.28"/></g>
<g transform="translate(13)"><path class="w" d="M0,28.42V28.79"/><g transform="translate(0,28.62) scale(1,.62) translate(0,-28.62)"><path class="b" d="M-.18,28.42H.18V28.79H-.18Z"/></g><g transform="translate(0,28.62) scale(1,.3) translate(0,-28.62)"><path class="b" d="M-.28,28.42H.28V28.79H-.28Z"/></g><path class="m" d="M-.28,28.62H.28"/></g>
<g transform="translate(14)"><path class="w" d="M0,27.98V28.42"/><g transform="translate(0,28.21) scale(1,.62) translate(0,-28.21)"><path class="b" d="M-.18,27.98H.18V28.42H-.18Z"/></g><g transform="translate(0,28.21) scale(1,.3) translate(0,-28.21)"><path class="b" d="M-.28,27.98H.28V28.42H-.28Z"/></g><path class="m" d="M-.28,28.21H.28"/></g>
<g transform="translate(15)"><path class="w" d="M0,28.18V28.73"/><g transform="translate(0,28.45) scale(1,.62) translate(0,-28.45)"><path class="b" d="M-.18,28.18H.18V28.73H-.18Z"/></g><g transform="translate(0,28.45) scale(1,.3) translate(0,-28.45)"><path class="b" d="M-.28,28.18H.28V28.73H-.28Z"/></g><path class="m" d="M-.28,28.45H.28"/></g>
<g transform="translate(16)"><path class="w" d="M0,28.49V28.93"/><g transform="translate(0,28.64) scale(1,.62) translate(0,-28.64)"><path class="b" d="M-.18,28.49H.18V28.93H-.18Z"/></g><g transform="translate(0,28.64) scale(1,.3) translate(0,-28.64)"><path class="b" d="M-.28,28.49H.28V28.93H-.28Z"/></g><path class="m" d="M-.28,28.64H.28"/></g>
<g transform="translate(17)"><path class="w" d="M0,28.21V28.66"/><g transform="translate(0,28.42) scale(1,.62) translate(0,-28.42)"><path class="b" d="M-.18,28.21H.18V28.66H-.18Z"/></g><g transform="translate(0,28.42) scale(1,.3) translate(0,-28.42)"><path class="b" d="M-.28,28.21H.28V28.66H-.28Z"/></g><path class="m" d="M-.28,28.42H.28"/></g>
<g transform="translate(18)"><path class="w" d="M0,27.6V28.11"/><g transform="translate(0,27.9) scale(1,.62) translate(0,-27.9)"><path class="b" d="M-.18,27.6H.18V28.11H-.18Z"/></g><g transform="translate(0,27.9) scale(1,.3) translate(0,-27.9)"><path class="b" d="M-.28,27.6H.28V28.11H-.28Z"/></g><path class="m" d="M-.28,27.9H.28"/></g>
<g transform="translate(19)"><path class="w" d="M0,27.84V28.34"/><g transform="translate(0,28.12) scale(1,.62) translate(0,-28.12)"><path class="b" d="M-.18,27.84H.18V28.34H-.18Z"/></g><g transform="translate(0,28.12) scale(1,.3) translate(0,-28.12)"><path class="b" d="M-.28,27.84H.28V28.34H-.28Z"/></g><path class="m" d="M-.28,28.12H.28"/></g>
<g transform="translate(20)"><path class="w" d="M0,28.16V28.64"/><g transform="translate(0,28.35) scale(1,.62) translate(0,-28.35)"><path class="b" d="M-.18,28.16H.18V28.64H-.18Z"/></g><g transform="translate(0,28.35) scale(1,.3) translate(0,-28.35)"><path class="b" d="M-.28,28.16H.28V28.64H-.28Z"/></g><path class="m" d="M-.28,28.35H.28"/></g>
<g transform="translate(21)"><path class="w" d="M0,28.05V28.62"/><g transform="translate(0,28.32) scale(1,.62) translate(0,-28.32)"><path class="b" d="M-.18,28.05H.18V28.62H-.18Z"/></g><g transform="translate(0,28.32) scale(1,.3) translate(0,-28.32)"><path class="b" d="M-.28,28.05H.28V28.62H-.28Z"/></g><path class="m" d="M-.28,28.32H.28"/></g>
<g transform="translate(22)"><path class="w" d="M0,27.51V28.3"/><g transform="translate(0,27.87) scale(1,.62) translate(0,-27.87)"><path class="b" d="M-.18,27.51H.18V28.3H-.18Z"/></g><g transform="translate(0,27.87) scale(1,.3) translate(0,-27.87)"><path class="b" d="M-.28,27.51H.28V28.3H-.28Z"/></g><path class="m" d="M-.28,27.87H.28"/></g>
<g transform="translate(23)"><path class="w" d="M0,27.91V28.59"/><g transform="translate(0,28.23) scale(1,.62) translate(0,-28.23)"><path class="b" d="M-.18,27.91H.18V28.59H-.18Z"/></g><g transform="translate(0,28.23) scale(1,.3) translate(0,-28.23)"><path class="b" d="M-.28,27.91H.28V28.59H-.28Z"/></g><path class="m" d="M-.28,28.23H.28"/></g>
<g transform="translate(24)"><path class="w" d="M0,28.16V28.93"/><g transform="translate(0,28.48) scale(1,.62) translate(0,-28.48)"><path class="b" d="M-.18,28.16H.18V28.93H-.18Z"/></g><g transform="translate(0,28.48) scale(1,.3) translate(0,-28.48)"><path class="b" d="M-.28,28.16H.28V28.93H-.28Z"/></g><path class="m" d="M-.28,28.48H.28"/></g>
<g transform="translate(25)"><path class="w" d="M0,27.94V28.78"/><g transform="translate(0,28.41) scale(1,.62) translate(0,-28.41)"><path class="b" d="M-.18,27.94H.18V28.78H-.18Z"/></g><g transform="translate(0,28.41) scale(1,.3) translate(0,-28.41)"><path class="b" d="M-.28,27.94H.28V28.78H-.28Z"/></g><path class="m" d="M-.28,28.41H.28"/></g>
<g transform="translate(26)"><path class="w" d="M0,27.26V28.2"/><g transform="translate(0,27.91) scale(1,.62) translate(0,-27.91)"><path class="b" d="M-.18,27.26H.18V28.2H-.18Z"/></g><g transform="translate(0,27.91) scale(1,.3) translate(0,-27.91)"><path class="b" d="M-.28,27.26H.28V28.2H-.28Z"/></g><path class="m" d="M-.28,27.91H.28"/></g>
<g transform="translate(27)"><path class="w" d="M0,27.48V28.5"/><g transform="translate(0,28.09) scale(1,.62) translate(0,-28.09)"><path class="b" d="M-.18,27.48H.18V28.5H-.18Z"/></g><g transform="translate(0,28.09) scale(1,.3) translate(0,-28.09)"><path class="b" d="M-.28,27.48H.28V28.5H-.28Z"/></g><path class="m" d="M-.28,28.09H.28"/></g>
<g transform="translate(28)"><path class="w" d="M0,27.69V28.55"/><g transform="translate(0,28.25) scale(1,.62) translate(0,-28.25)"><path class="b" d="M-.18,27.69H.18V28.55H-.18Z"/></g><g transform="translate(0,28.25) scale(1,.3) translate(0,-28.25)"><path class="b" d="M-.28,27.69H.28V28.55H-.28Z"/></g><path class="m" d="M-.28,28.25H.28"/></g>
<g transform="translate(29)"><path class="w" d="M0,27.62V28.41"/><g transform="translate(0,28.09) scale(1,.62) translate(0,-28.09)"><path class="b" d="M-.18,27.62H.18V28.41H-.18Z"/></g><g transform="translate(0,28.09) scale(1,.3) translate(0,-28.09)"><path class="b" d="M-.28,27.62H.28V28.41H-.28Z"/></g><path class="m" d="M-.28,28.09H.28"/></g>
<g transform="translate(30)"><path class="w" d="M0,27.05V27.94"/><g transform="translate(0,27.62) scale(1,.62) translate(0,-27.62)"><path class="b" d="M-.18,27.05H.18V27.94H-.18Z"/></g><g transform="translate(0,27.62) scale(1,.3) translate(0,-27.62)"><path class="b" d="M-.28,27.05H.28V27.94H-.28Z"/></g><path class="m" d="M-.28,27.62H.28"/></g>
<g transform="translate(31)"><path class="w" d="M0,27.26V28.59"/><g transform="translate(0,27.87) scale(1,.62) translate(0,-27.87)"><path class="b" d="M-.18,27.26H.18V28.59H-.18Z"/></g><g transform="translate(0,27.87) scale(1,.3) translate(0,-27.87)"><path class="b" d="M-.28,27.26H.28V28.59H-.28Z"/></g><path class="m" d="M-.28,27.87H.28"/></g>
<g transform="translate(32)"><path class="w" d="M0,27.73V28.77"/><g transform="translate(0,28.12) scale(1,.62) translate(0,-28.12)"><path class="b" d="M-.18,27.73H.18V28.77H-.18Z"/></g><g transform="translate(0,28.12) scale(1,.3) translate(0,-28.12)"><path class="b" d="M-.28,27.73H.28V28.77H-.28Z"/></g><path class="m" d="M-.28,28.12H.28"/></g>
<g transform="translate(33)"><path class="w" d="M0,27.41V28.66"/><g transform="translate(0,27.94) scale(1,.62) translate(0,-27.94)"><path class="b" d="M-.18,27.41H.18V28.66H-.18Z"/></g><g transform="translate(0,27.94) scale(1,.3) translate(0,-27.94)"><path class="b" d="M-.28,27.41H.28V28.66H-.28Z"/></g><path class="m" d="M-.28,27.94H.28"/></g>
<g transform="translate(34)"><path class="w" d="M0,26.98V28.23"/><g transform="translate(0,27.67) scale(1,.62) translate(0,-27.67)"><path class="b" d="M-.18,26.98H.18V28.23H-.18Z"/></g><g transform="translate(0,27.67) scale(1,.3) translate(0,-27.67)"><path class="b" d="M-.28,26.98H.28V28.23H-.28Z"/></g><path class="m" d="M-.28,27.67H.28"/></g>
<g transform="translate(35)"><path class="w" d="M0,27.26V28.45"/><g transform="translate(0,28.01) scale(1,.62) translate(0,-28.01)"><path class="b" d="M-.18,27.26H.18V28.45H-.18Z"/></g><g transform="translate(0,28.01) scale(1,.3) translate(0,-28.01)"><path class="b" d="M-.28,27.26H.28V28.45H-.28Z"/></g><path class="m" d="M-.28,28.01H.28"/></g>
<g transform="translate(36)"><path class="w" d="M0,27.62V28.78"/><g transform="translate(0,28.28) scale(1,.62) translate(0,-28.28)"><path class="b" d="M-.18,27.62H.18V28.78H-.18Z"/></g><g transform="translate(0,28.28) scale(1,.3) translate(0,-28.28)"><path class="b" d="M-.28,27.62H.28V28.78H-.28Z"/></g><path class="m" d="M-.28,28.28H.28"/></g>
<g transform="translate(37)"><path class="w" d="M0,27.41V28.7"/><g transform="translate(0,28.05) scale(1,.62) translate(0,-28.05)"><path class="b" d="M-.18,27.41H.18V28.7H-.18Z"/></g><g transform="translate(0,28.05) scale(1,.3) translate(0,-28.05)"><path class="b" d="M-.28,27.41H.28V28.7H-.28Z"/></g><path class="m" d="M-.28,28.05H.28"/></g>
<g transform="translate(38)"><path class="w" d="M0,26.99V28.34"/><g transform="translate(0,27.84) scale(1,.62) translate(0,-27.84)"><path class="b" d="M-.18,26.99H.18V28.34H-.18Z"/></g><g transform="translate(0,27.84) scale(1,.3) translate(0,-27.84)"><path class="b" d="M-.28,26.99H.28V28.34H-.28Z"/></g><path class="m" d="M-.28,27.84H.28"/></g>
<g transform="translate(39)"><path class="w" d="M0,27.55V28.7"/><g transform="translate(0,28.16) scale(1,.62) translate(0,-28.16)"><path class="b" d="M-.18,27.55H.18V28.7H-.18Z"/></g><g transform="translate(0,28.16) scale(1,.3) translate(0,-28.16)"><path class="b" d="M-.28,27.55H.28V28.7H-.28Z"/></g><path class="m" d="M-.28,28.16H.28"/></g>
<g transform="translate(40)"><path class="w" d="M0,27.84V28.91"/><g transform="translate(0,28.45) scale(1,.62) translate(0,-28.45)"><path class="b" d="M-.18,27.84H.18V28.91H-.18Z"/></g><g transform="translate(0,28.45) scale(1,.3) translate(0,-28.45)"><path class="b" d="M-.28,27.84H.28V28.91H-.28Z"/></g><path class="m" d="M-.28,28.45H.28"/></g>
<g transform="translate(41)"><path class="w" d="M0,27.62V28.73"/><g transform="translate(0,28.3) scale(1,.62) translate(0,-28.3)"><path class="b" d="M-.18,27.62H.18V28.73H-.18Z"/></g><g transform="translate(0,28.3) scale(1,.3) translate(0,-28.3)"><path class="b" d="M-.28,27.62H.28V28.73H-.28Z"/></g><path class="m" d="M-.28,28.3H.28"/></g>
<g transform="translate(42)"><path class="w" d="M0,27.08V28.52"/><g transform="translate(0,27.91) scale(1,.62) translate(0,-27.91)"><path class="b" d="M-.18,27.08H.18V28.52H-.18Z"/></g><g transform="translate(0,27.91) scale(1,.3) translate(0,-27.91)"><path class="b" d="M-.28,27.08H.28V28.52H-.28Z"/></g><path class="m" d="M-.28,27.91H.28"/></g>
<g transform="translate(43)"><path class="w" d="M0,27.41V28.73"/><g transform="translate(0,28.27) scale(1,.62) translate(0,-28.27)"><path class="b" d="M-.18,27.41H.18V28.73H-.18Z"/></g><g transform="translate(0,28.27) scale(1,.3) translate(0,-28.27)"><path class="b" d="M-.28,27.41H.28V28.73H-.28Z"/></g><path class="m" d="M-.28,28.27H.28"/></g>
<g transform="translate(44)"><path class="w" d="M0,27.69V29.13"/><g transform="translate(0,28.48) scale(1,.62) translate(0,-28.48)"><path class="b" d="M-.18,27.69H.18V29.13H-.18Z"/></g><g transform="translate(0,28.48) scale(1,.3) translate(0,-28.48)"><path class="b" d="M-.28,27.69H.28V29.13H-.28Z"/></g><path class="m" d="M-.28,28.48H.28"/></g>
<g transform="translate(45)"><path class="w" d="M0,27.55V29.02"/><g transform="translate(0,28.23) scale(1,.62) translate(0,-28.23)"><path class="b" d="M-.18,27.55H.18V29.02H-.18Z"/></g><g transform="translate(0,28.23) scale(1,.3) translate(0,-28.23)"><path class="b" d="M-.28,27.55H.28V29.02H-.28Z"/></g><path class="m" d="M-.28,28.23H.28"/></g>
<g transform="translate(46)"><path class="w" d="M0,27.3V28.62"/><g transform="translate(0,27.96) scale(1,.62) translate(0,-27.96)"><path class="b" d="M-.18,27.3H.18V28.62H-.18Z"/></g><g transform="translate(0,27.96) scale(1,.3) translate(0,-27.96)"><path class="b" d="M-.28,27.3H.28V28.62H-.28Z"/></g><path class="m" d="M-.28,27.96H.28"/></g>
<g transform="translate(47)"><path class="w" d="M0,27.51V28.86"/><g transform="translate(0,28.25) scale(1,.62) translate(0,-28.25)"><path class="b" d="M-.18,27.51H.18V28.86H-.18Z"/></g><g transform="translate(0,28.25) scale(1,.3) translate(0,-28.25)"><path class="b" d="M-.28,27.51H.28V28.86H-.28Z"/></g><path class="m" d="M-.28,28.25H.28"/></g>
<g transform="translate(48)"><path class="w" d="M0,27.98V29.02"/><g transform="translate(0,28.54) scale(1,.62) translate(0,-28.54)"><path class="b" d="M-.18,27.98H.18V29.02H-.18Z"/></g><g transform="translate(0,28.54) scale(1,.3) translate(0,-28.54)"><path class="b" d="M-.28,27.98H.28V29.02H-.28Z"/></g><path class="m" d="M-.28,28.54H.28"/></g>
<g transform="translate(49)"><path class="w" d="M0,27.48V28.95"/><g transform="translate(0,28.3) scale(1,.62) translate(0,-28.3)"><path class="b" d="M-.18,27.48H.18V28.95H-.18Z"/></g><g transform="translate(0,28.3) scale(1,.3) translate(0,-28.3)"><path class="b" d="M-.28,27.48H.28V28.95H-.28Z"/></g><path class="m" d="M-.28,28.3H.28"/></g>
<g transform="translate(50)"><path class="w" d="M0,27.37V28.7"/><g transform="translate(0,28.05) scale(1,.62) translate(0,-28.05)"><path class="b" d="M-.18,27.37H.18V28.7H-.18Z"/></g><g transform="translate(0,28.05) scale(1,.3) translate(0,-28.05)"><path class="b" d="M-.28,27.37H.28V28.7H-.28Z"/></g><path class="m" d="M-.28,28.05H.28"/></g>
<g transform="translate(51)"><path class="w" d="M0,27.69V28.93"/><g transform="translate(0,28.34) scale(1,.62) translate(0,-28.34)"><path class="b" d="M-.18,27.69H.18V28.93H-.18Z"/></g><g transform="translate(0,28.34) scale(1,.3) translate(0,-28.34)"><path class="b" d="M-.28,27.69H.28V28.93H-.28Z"/></g><path class="m" d="M-.28,28.34H.28"/></g>
<g transform="translate(52)"><path class="w" d="M0,28.05V28.88"/><g transform="translate(0,28.55) scale(1,.62) translate(0,-28.55)"><path class="b" d="M-.18,28.05H.18V28.88H-.18Z"/></g><g transform="translate(0,28.55) scale(1,.3) translate(0,-28.55)"><path class="b" d="M-.28,28.05H.28V28.88H-.28Z"/></g><path class="m" d="M-.28,28.55H.28"/></g>
<g transform="translate(53)"><path class="w" d="M0,27.51V28.75"/><g transform="translate(0,28.34) scale(1,.62) translate(0,-28.34)"><path class="b" d="M-.18,27.51H.18V28.75H-.18Z"/></g><g transform="translate(0,28.34) scale(1,.3) translate(0,-28.34)"><path class="b" d="M-.28,27.51H.28V28.75H-.28Z"/></g><path class="m" d="M-.28,28.34H.28"/></g>
<g transform="translate(54)"><path class="w" d="M0,27.55V28.48"/><g transform="translate(0,28.03) scale(1,.62) translate(0,-28.03)"><path class="b" d="M-.18,27.55H.18V28.48H-.18Z"/></g><g transform="translate(0,28.03) scale(1,.3) translate(0,-28.03)"><path class="b" d="M-.28,27.55H.28V28.48H-.28Z"/></g><path class="m" d="M-.28,28.03H.28"/></g>
<g transform="translate(55)"><path class="w" d="M0,27.76V28.81"/><g transform="translate(0,28.34) scale(1,.62) translate(0,-28.34)"><path class="b" d="M-.18,27.76H.18V28.81H-.18Z"/></g><g transform="translate(0,28.34) scale(1,.3) translate(0,-28.34)"><path class="b" d="M-.28,27.76H.28V28.81H-.28Z"/></g><path class="m" d="M-.28,28.34H.28"/></g>
<g transform="translate(56)"><path class="w" d="M0,28.23V28.98"/><g transform="translate(0,28.55) scale(1,.62) translate(0,-28.55)"><path class="b" d="M-.18,28.23H.18V28.98H-.18Z"/></g><g transform="translate(0,28.55) scale(1,.3) translate(0,-28.55)"><path class="b" d="M-.28,28.23H.28V28.98H-.28Z"/></g><path class="m" d="M-.28,28.55H.28"/></g>
<g transform="translate(57)"><path class="w" d="M0,27.69V28.81"/><g transform="translate(0,28.41) scale(1,.62) translate(0,-28.41)"><path class="b" d="M-.18,27.69H.18V28.81H-.18Z"/></g><g transform="translate(0,28.41) scale(1,.3) translate(0,-28.41)"><path class="b" d="M-.28,27.69H.28V28.81H-.28Z"/></g><path class="m" d="M-.28,28.41H.28"/></g>
<g transform="translate(58)"><path class="w" d="M0,27.23V28.7"/><g transform="translate(0,28.1) scale(1,.62) translate(0,-28.1)"><path class="b" d="M-.18,27.23H.18V28.7H-.18Z"/></g><g transform="translate(0,28.1) scale(1,.3) translate(0,-28.1)"><path class="b" d="M-.28,27.23H.28V28.7H-.28Z"/></g><path class="m" d="M-.28,28.1H.28"/></g>
<g transform="translate(59)"><path class="w" d="M0,27.62V29.2"/><g transform="translate(0,28.35) scale(1,.62) translate(0,-28.35)"><path class="b" d="M-.18,27.62H.18V29.2H-.18Z"/></g><g transform="translate(0,28.35) scale(1,.3) translate(0,-28.35)"><path class="b" d="M-.28,27.62H.28V29.2H-.28Z"/></g><path class="m" d="M-.28,28.35H.28"/></g>
<g transform="translate(60)"><path class="w" d="M0,27.94V29.24"/><g transform="translate(0,28.59) scale(1,.62) translate(0,-28.59)"><path class="b" d="M-.18,27.94H.18V29.24H-.18Z"/></g><g transform="translate(0,28.59) scale(1,.3) translate(0,-28.59)"><path class="b" d="M-.28,27.94H.28V29.24H-.28Z"/></g><path class="m" d="M-.28,28.59H.28"/></g>
<polyline class="r" points="0,28.4 1,28.36 2,28.04 3,28.35 4,28.4 5,28.25 6,27.91 7,28.39 8,28.61 9,28.56 10,28.19 11,28.47 12,28.69 13,28.66 14,28.28 15,28.5 16,28.64 17,28.45 18,27.97 19,28.23 20,28.37 21,28.41 22,28.02 23,28.41 24,28.59 25,28.52 26,28.05 27,28.3 28,28.48 29,28.47 30,27.84 31,28.27 32,28.42 33,28.3 34,28.07 35,28.45 36,28.66 37,28.52 38,28.27 39,28.66 40,28.75 41,28.59 42,28.1 43,28.34 44,28.45 45,28.01 46,27.55 47,27.98 48,28.34 49,27.98 50,27.38 51,27.8 52,28.22 53,28.05 54,27.69 55,28.09 56,28.41 57,28.42 58,28.27 59,28.59 60,28.61"/>
<polyline class="u" points="0,28.4 1,28.36 2,28.01 3,28.35 4,28.42 5,28.21 6,27.87 7,28.35 8,28.59 9,28.57 10,28.16 11,28.42 12,28.66 13,28.62 14,28.21 15,28.45 16,28.64 17,28.42 18,27.9 19,28.12 20,28.35 21,28.32 22,27.87 23,28.23 24,28.48 25,28.41 26,27.91 27,28.09 28,28.25 29,28.09 30,27.62 31,27.87 32,28.12 33,27.94 34,27.67 35,28.01 36,28.28 37,28.05 38,27.84 39,28.16 40,28.45 41,28.3 42,27.91 43,28.27 44,28.48 45,28.23 46,27.96 47,28.25 48,28.54 49,28.3 50,28.05 51,28.34 52,28.55 53,28.34 54,28.03 55,28.34 56,28.55 57,28.41 58,28.1 59,28.35 60,28.59"/>
</g></g>

<!-- frames & ticks -->
<rect class="f" x="44.3" y="95" width="782.4" height="115"/>
<rect class="f" x="44.3" y="237" width="782.4" height="115.3"/>
<rect class="f" x="44.3" y="379.3" width="782.4" height="115.7"/>
<rect class="f" x="44.3" y="522" width="782.4" height="114.7"/>
<use href="#xt" y="210" class="t"/>
<use href="#xt" y="352.3" class="t"/>
<use href="#xt" y="495" class="t"/>
<use href="#xt" y="636.7" class="t"/>
<path class="t" d="M39.8,99.7H44.3M39.8,126H44.3M39.8,152.4H44.3M39.8,178.7H44.3M39.8,205H44.3M39.8,347.7H44.3M39.8,319.2H44.3M39.8,290.8H44.3M39.8,262.3H44.3M39.8,491H44.3M39.8,457.9H44.3M39.8,424.8H44.3M39.8,391.7H44.3M39.8,636H44.3M39.8,611.6H44.3M39.8,587.2H44.3M39.8,562.7H44.3M39.8,538.3H44.3"/>

<!-- titles -->
<text x="44" y="23.5" font-size="15.3" fill="#111">CMA-GEPS meteogram</text>
<text x="44" y="44.5" font-size="15.3" fill="#111">Maamigili 3.47°N 72.83°E</text>
<text x="44" y="65.5" font-size="15.3" fill="#111">Initime: 20260328 12UTC</text>
<text x="44.5" y="90" font-size="12.2" fill="#111">Total cloud cover (%)</text>
<text x="44.5" y="232" font-size="12.2" fill="#111">Total precipitation (mm/6h)</text>
<text x="44.5" y="374.3" font-size="12.2" fill="#111">10m wind speed (m/s)</text>
<text x="44.5" y="517" font-size="12.2" fill="#111">2m temperature (℃)</text>
<g font-size="11" fill="#111" text-anchor="end">
<text x="35.5" y="103.5">100</text><text x="35.5" y="129.8">75</text><text x="35.5" y="156.2">50</text><text x="35.5" y="182.5">25</text><text x="35.5" y="208.8">0</text>
<text x="35.5" y="266.1">3</text><text x="35.5" y="294.6">2</text><text x="35.5" y="323">1</text><text x="35.5" y="351.5">0</text>
<text x="35.5" y="395.5">6</text><text x="35.5" y="428.6">4</text><text x="35.5" y="461.7">2</text><text x="35.5" y="494.8">0</text>
<text x="35.5" y="542.1">29.0</text><text x="35.5" y="566.5">28.5</text><text x="35.5" y="591">28.0</text><text x="35.5" y="615.4">27.5</text><text x="35.5" y="639.8">27.0</text>
</g>
<g font-size="10.8" fill="#111" text-anchor="middle">
<text x="50.7" y="656">12Z</text><text x="50.7" y="667.5">28Mar</text>
<text x="102" y="656">12Z</text><text x="102" y="667.5">29Mar</text>
<text x="153.3" y="656">12Z</text><text x="153.3" y="667.5">30Mar</text>
<text x="204.7" y="656">12Z</text><text x="204.7" y="667.5">31Mar</text>
<text x="256" y="656">12Z</text><text x="256" y="667.5">01Apr</text>
<text x="307.3" y="656">12Z</text><text x="307.3" y="667.5">02Apr</text>
<text x="358.6" y="656">12Z</text><text x="358.6" y="667.5">03Apr</text>
<text x="410" y="656">12Z</text><text x="410" y="667.5">04Apr</text>
<text x="461.3" y="656">12Z</text><text x="461.3" y="667.5">05Apr</text>
<text x="512.6" y="656">12Z</text><text x="512.6" y="667.5">06Apr</text>
<text x="563.9" y="656">12Z</text><text x="563.9" y="667.5">07Apr</text>
<text x="615.3" y="656">12Z</text><text x="615.3" y="667.5">08Apr</text>
<text x="666.6" y="656">12Z</text><text x="666.6" y="667.5">09Apr</text>
<text x="717.9" y="656">12Z</text><text x="717.9" y="667.5">10Apr</text>
<text x="769.2" y="656">12Z</text><text x="769.2" y="667.5">11Apr</text>
<text x="820.5" y="656">12Z</text><text x="820.5" y="667.5">12Apr</text>
</g>
<!-- legend -->
<line x1="551.5" y1="15.7" x2="551.5" y2="84" stroke="#111" stroke-width="1"/>
<rect x="547" y="27.3" width="9" height="45.4" fill="#96f064" stroke="#1c3a0c" stroke-width="1"/>
<rect x="542.3" y="38.3" width="18.4" height="23.4" fill="#96f064" stroke="#1c3a0c" stroke-width="1"/>
<line x1="542.3" y1="50" x2="560.7" y2="50" stroke="#1c3a0c" stroke-width="1"/>
<g font-size="8.6" fill="#111">
<text x="569" y="18.4">max</text>
<text x="569" y="29.8">90%</text>
<text x="569" y="41.1">75%</text>
<text x="569" y="53">median</text>
<text x="569" y="64.2">25%</text>
<text x="569" y="75.5">10%</text>
<text x="569" y="86.8">min</text>
</g>
<line x1="683.3" y1="37.7" x2="708.3" y2="37.7" stroke="#e41a1c" stroke-width="1.3"/>
<text x="718.3" y="41.9" font-size="12" fill="#111">Control</text>
<line x1="683.3" y1="62.7" x2="708.3" y2="62.7" stroke="#1a1aff" stroke-width="1.3"/>
<text x="718.3" y="66.9" font-size="12" fill="#111">Ensemble Mean</text>
</svg>
</body></html>
